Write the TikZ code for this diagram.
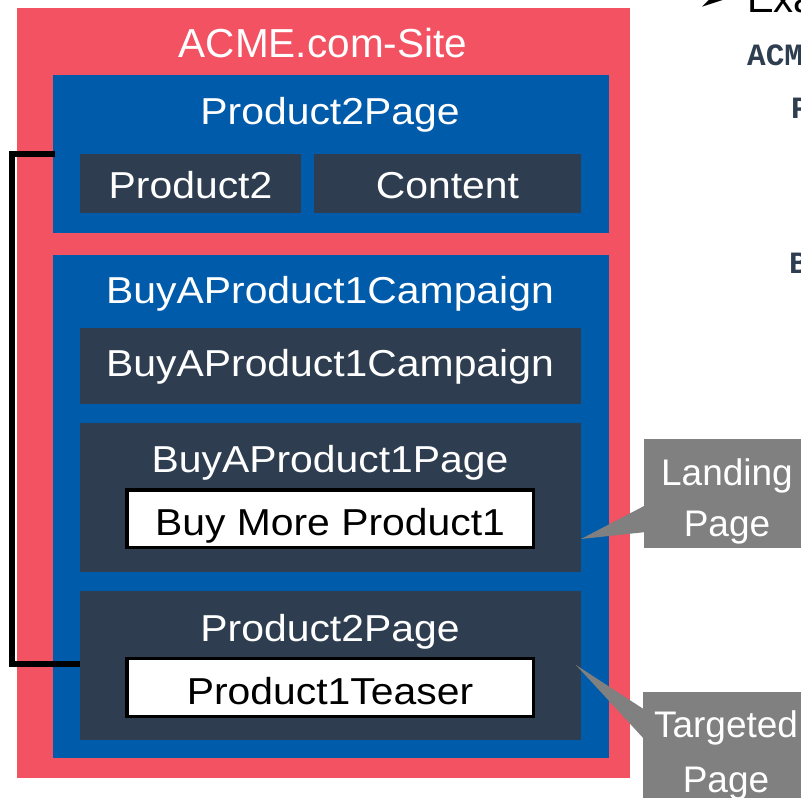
\documentclass[tikz,border=0pt]{standalone}
\usepackage{fontspec}
\setmainfont{Liberation Sans}
\newfontfamily\monob{Liberation Mono}
\newfontfamily\djv{DejaVu Sans}
\definecolor{acred}{HTML}{F25262}
\definecolor{acblue}{HTML}{005BAA}
\definecolor{acdark}{HTML}{2E3E50}
\definecolor{acgrey}{HTML}{808080}
\begin{document}
\begin{tikzpicture}[x=1pt,y=-1pt,
  area/.style={draw=none,inner sep=0pt,outer sep=0pt,anchor=north west},
  whitebox/.style={draw=black,line width=3.5pt,fill=white,inner sep=0pt,outer sep=0pt},
  titletext/.style={text=white,inner sep=0pt,anchor=base,font=\fontsize{40.5}{44}\selectfont},
  lbl/.style={text=white,inner sep=0pt,anchor=base,xscale=1.09,font=\fontsize{37.5}{40}\selectfont},
  blk/.style={lbl,text=black},
  calltext/.style={text=white,inner sep=0pt,anchor=base,font=\fontsize{37}{40}\selectfont},
  bracket/.style={draw=black,line width=5.2pt,line join=miter},
  codetext/.style={text=acdark,inner sep=0pt,anchor=base west,font=\monob\bfseries\fontsize{31}{34}\selectfont}
]
\useasboundingbox (0,0) rectangle (801,798);
\clip (0,0) rectangle (801,798);

% containers
\node[area,fill=acred,minimum width=613pt,minimum height=770pt] (site) at (17,8) {};
\node[titletext] (sitet) at (323,57) {ACME.com-Site};

\node[area,fill=acblue,minimum width=556pt,minimum height=158pt] (page1) at (53,75) {};
\node[lbl] (page1t) at (330,124) {Product2Page};
\node[area,fill=acdark,minimum width=221pt,minimum height=59pt] (prod2) at (80,154) {};
\node[lbl] (prod2t) at (190.5,198) {Product2};
\node[area,fill=acdark,minimum width=267pt,minimum height=59pt] (content) at (314,154) {};
\node[lbl] (contentt) at (447.5,198) {Content};

\node[area,fill=acblue,minimum width=556pt,minimum height=503pt] (camp) at (53,255) {};
\node[lbl] (campt) at (330,303) {BuyAProduct1Campaign};
\node[area,fill=acdark,minimum width=501pt,minimum height=76pt] (campbox) at (80,328) {};
\node[lbl] (campboxt) at (330,376) {BuyAProduct1Campaign};

\node[area,fill=acdark,minimum width=501pt,minimum height=149pt] (buypage) at (80,423) {};
\node[lbl] (buypaget) at (330,472) {BuyAProduct1Page};
\node[whitebox,minimum width=406.5pt,minimum height=57.5pt] (buymore) at (330,518.5) {};
\node[blk] (buymoret) at (330,535) {Buy More Product1};

\node[area,fill=acdark,minimum width=501pt,minimum height=149pt] (p2page) at (80,591) {};
\node[lbl] (p2paget) at (330,641) {Product2Page};
\node[whitebox,minimum width=406.5pt,minimum height=58pt] (teaser) at (330,687.5) {};
\node[blk] (teasert) at (330,704) {Product1Teaser};

% callouts
\node[area,fill=acgrey,minimum width=170pt,minimum height=109pt] (landing) at (644,439) {};
\coordinate (ltip) at (581,539);
\fill[acgrey] (ltip) -- (646,505) -- (646,532) -- cycle;
\node[calltext] (landt1) at (727,485) {Landing};
\node[calltext] (landt2) at (727,536) {Page};

\node[area,fill=acgrey,minimum width=170pt,minimum height=120pt] (targeted) at (643,692) {};
\coordinate (ttip) at (576,665);
\fill[acgrey] (ttip) -- (645,710) -- (645,740) -- cycle;
\node[calltext] (targt1) at (726,737) {Targeted};
\node[calltext] (targt2) at (726,792) {Page};

% bracket
\coordinate (btop) at (55,154);
\coordinate (bcorner) at (12,664);
\coordinate (bbot) at (0,664);
\draw[bracket] (btop) -| (bcorner) -- (p2page.west |- bbot);

% cut-off text at the right
\node[inner sep=0pt,anchor=base west,font=\djv\fontsize{34}{36}\selectfont] (arrowsym) at (698,10) {➢};
\node[inner sep=0pt,anchor=base west,font=\fontsize{40}{44}\selectfont] (exa) at (747,12) {Example};
\node[codetext] (code1) at (747,65) {ACME.com-Site};
\node[codetext] (code2) at (791,118) {Product2Page};
\node[codetext] (code3) at (789,273) {BuyAProduct1Campaign};
\end{tikzpicture}
\end{document}
